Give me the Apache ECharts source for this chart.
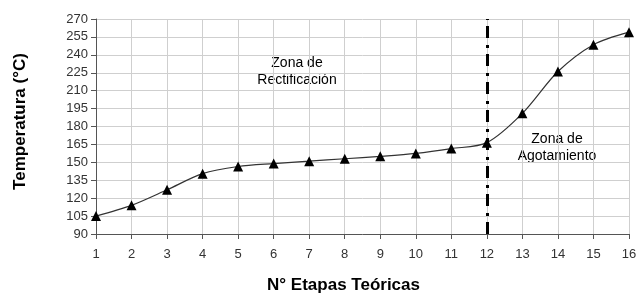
<!DOCTYPE html>
<html>
<head>
<meta charset="utf-8">
<script src="https://cdn.jsdelivr.net/npm/echarts@6/dist/echarts.min.js"></script>
<style>
  html, body { margin: 0; padding: 0; background: #fff; }
  #chart { width: 637px; height: 293px; }
</style>
</head>
<body>
<div id="chart"></div>
<script>
// etapas teóricas (eje x)
const stages = ['1','2','3','4','5','6','7','8','9','10','11','12','13','14','15','16'];
// temperatura, °C
const temperature = [105, 114, 127, 140.5, 146.5, 149, 151, 153, 155, 157.5, 161.5, 166.5, 191, 226, 248.5, 259];
const feedStage = '12';

const chart = echarts.init(document.getElementById('chart'), null, { renderer: 'canvas' });

const FONT = 'Liberation Sans, Arial, sans-serif';
const labelFont = { color: '#333', fontSize: 13, fontFamily: FONT };
const titleFont = { color: '#000', fontSize: 17, fontWeight: 'bold', fontFamily: FONT };

chart.setOption({
  backgroundColor: '#fff',
  animation: false,
  grid: { left: 96, right: 8, top: 19, bottom: 59, containLabel: false, outerBoundsMode: 'none' },
  xAxis: {
    type: 'category',
    data: stages,
    boundaryGap: false,
    name: 'N° Etapas Teóricas',
    nameLocation: 'middle',
    nameGap: 43,
    nameTextStyle: { ...titleFont, padding: [0, 38, 0, 0] },
    axisLine: { lineStyle: { color: '#555', width: 1 } },
    axisTick: { show: true, length: 5, alignWithLabel: true, lineStyle: { color: '#555' } },
    axisLabel: { ...labelFont, margin: 14, interval: 0 },
    splitLine: { show: true, lineStyle: { color: '#cfcfcf', width: 1 } },
  },
  yAxis: {
    type: 'value',
    min: 90,
    max: 270,
    interval: 15,
    name: 'Temperatura (°C)',
    nameLocation: 'middle',
    nameGap: 67,
    nameTextStyle: { ...titleFont, padding: [0, 0, 0, 10] },
    axisLine: { show: true, lineStyle: { color: '#555', width: 1 } },
    axisTick: { show: true, length: 5, lineStyle: { color: '#555' } },
    axisLabel: { ...labelFont, margin: 8 },
    splitLine: { lineStyle: { color: '#cfcfcf', width: 1 } },
  },
  series: [
    {
      type: 'line',
      data: temperature,
      smooth: 0.3,
      symbol: 'triangle',
      symbolSize: 10,
      itemStyle: { color: '#000' },
      lineStyle: { color: '#333', width: 1.2 },
      markLine: {
        silent: true,
        symbol: 'none',
        label: { show: false },
        lineStyle: { color: '#000', width: 3, type: [12, 6, 3, 7] },
        data: [{ xAxis: feedStage }],
      },
    },
  ],
  graphic: [
    {
      type: 'text',
      x: 297,
      y: 55,
      style: {
        text: 'Zona de\nRectificación',
        align: 'center',
        fill: '#000',
        font: '14px Liberation Sans, Arial, sans-serif',
        lineHeight: 17,
      },
    },
    {
      type: 'text',
      x: 557,
      y: 131,
      style: {
        text: 'Zona de\nAgotamiento',
        align: 'center',
        fill: '#000',
        font: '14px Liberation Sans, Arial, sans-serif',
        lineHeight: 17,
      },
    },
  ],
});
</script>
</body>
</html>
